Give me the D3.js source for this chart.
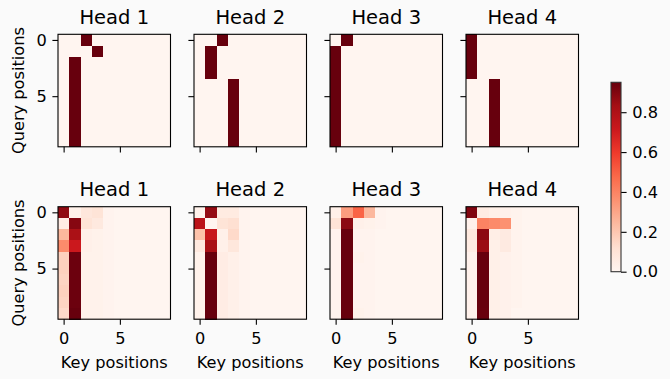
<!DOCTYPE html>
<html>
<head>
<meta charset="utf-8">
<script src="https://cdn.jsdelivr.net/npm/d3@7"></script>
<style>
  html, body { margin: 0; padding: 0; background: #fafafa; }
  svg { display: block; font-family: "DejaVu Sans", sans-serif; }
</style>
</head>
<body>
<svg id="chart" width="670" height="379"></svg>
<script>
// ---------------- DATA ----------------
const headTitles = ["Head 1", "Head 2", "Head 3", "Head 4"];
const positions = [0, 1, 2, 3, 4, 5, 6, 7, 8, 9];
const tickValues = [0, 5];
const colorbarTicks = [0.0, 0.2, 0.4, 0.6, 0.8];

const topHead1 = [
  [0,0,1,0,0,0,0,0,0,0],
  [0,0,0,1,0,0,0,0,0,0],
  [0,1,0,0,0,0,0,0,0,0],
  [0,1,0,0,0,0,0,0,0,0],
  [0,1,0,0,0,0,0,0,0,0],
  [0,1,0,0,0,0,0,0,0,0],
  [0,1,0,0,0,0,0,0,0,0],
  [0,1,0,0,0,0,0,0,0,0],
  [0,1,0,0,0,0,0,0,0,0],
  [0,1,0,0,0,0,0,0,0,0]
];
const topHead2 = [
  [0,0,1,0,0,0,0,0,0,0],
  [0,1,0,0,0,0,0,0,0,0],
  [0,1,0,0,0,0,0,0,0,0],
  [0,1,0,0,0,0,0,0,0,0],
  [0,0,0,1,0,0,0,0,0,0],
  [0,0,0,1,0,0,0,0,0,0],
  [0,0,0,1,0,0,0,0,0,0],
  [0,0,0,1,0,0,0,0,0,0],
  [0,0,0,1,0,0,0,0,0,0],
  [0,0,0,1,0,0,0,0,0,0]
];
const topHead3 = [
  [0,1,0,0,0,0,0,0,0,0],
  [1,0,0,0,0,0,0,0,0,0],
  [1,0,0,0,0,0,0,0,0,0],
  [1,0,0,0,0,0,0,0,0,0],
  [1,0,0,0,0,0,0,0,0,0],
  [1,0,0,0,0,0,0,0,0,0],
  [1,0,0,0,0,0,0,0,0,0],
  [1,0,0,0,0,0,0,0,0,0],
  [1,0,0,0,0,0,0,0,0,0],
  [1,0,0,0,0,0,0,0,0,0]
];
const topHead4 = [
  [1,0,0,0,0,0,0,0,0,0],
  [1,0,0,0,0,0,0,0,0,0],
  [1,0,0,0,0,0,0,0,0,0],
  [1,0,0,0,0,0,0,0,0,0],
  [0,0,1,0,0,0,0,0,0,0],
  [0,0,1,0,0,0,0,0,0,0],
  [0,0,1,0,0,0,0,0,0,0],
  [0,0,1,0,0,0,0,0,0,0],
  [0,0,1,0,0,0,0,0,0,0],
  [0,0,1,0,0,0,0,0,0,0]
];

const bottomHead1 = [
  [0.88,0.02,0.08,0.10,0.01,0,0,0,0,0],
  [0.05,0.90,0.10,0.07,0.01,0,0,0,0,0],
  [0.25,0.82,0.03,0.02,0.01,0,0,0,0,0],
  [0.38,0.72,0.03,0.02,0.01,0,0,0,0,0],
  [0.17,0.95,0.02,0.02,0.01,0,0,0,0,0],
  [0.17,0.95,0.02,0.02,0.01,0,0,0,0,0],
  [0.16,0.95,0.02,0.02,0.01,0,0,0,0,0],
  [0.17,0.95,0.02,0.02,0.01,0,0,0,0,0],
  [0.16,0.95,0.02,0.02,0.01,0,0,0,0,0],
  [0.14,0.96,0.02,0.02,0.01,0,0,0,0,0]
];
const bottomHead2 = [
  [0.02,0.88,0.06,0.06,0.01,0,0,0,0,0],
  [0.78,0.00,0.10,0.12,0.01,0,0,0,0,0],
  [0.22,0.74,0.03,0.14,0.01,0,0,0,0,0],
  [0.07,0.84,0.03,0.08,0.01,0,0,0,0,0],
  [0.02,0.97,0.05,0.03,0.01,0,0,0,0,0],
  [0.02,0.97,0.05,0.03,0.01,0,0,0,0,0],
  [0.02,0.97,0.05,0.03,0.01,0,0,0,0,0],
  [0.02,0.97,0.05,0.03,0.01,0,0,0,0,0],
  [0.02,0.97,0.05,0.03,0.01,0,0,0,0,0],
  [0.02,0.97,0.05,0.03,0.01,0,0,0,0,0]
];
const bottomHead3 = [
  [0.03,0.33,0.50,0.25,0.01,0,0,0,0,0],
  [0.10,0.90,0.03,0.02,0.01,0,0,0,0,0],
  [0.01,0.97,0.01,0.01,0.00,0,0,0,0,0],
  [0.01,0.97,0.01,0.01,0.00,0,0,0,0,0],
  [0.01,0.97,0.02,0.01,0.00,0,0,0,0,0],
  [0.01,0.97,0.01,0.01,0.00,0,0,0,0,0],
  [0.01,0.97,0.01,0.01,0.00,0,0,0,0,0],
  [0.01,0.97,0.01,0.01,0.00,0,0,0,0,0],
  [0.01,0.97,0.01,0.01,0.00,0,0,0,0,0],
  [0.01,0.97,0.02,0.01,0.00,0,0,0,0,0]
];
const bottomHead4 = [
  [0.90,0.05,0.03,0.02,0.01,0,0,0,0,0],
  [0.02,0.40,0.38,0.36,0.01,0,0,0,0,0],
  [0.07,0.88,0.04,0.06,0.01,0,0,0,0,0],
  [0.05,0.85,0.03,0.06,0.01,0,0,0,0,0],
  [0.02,0.95,0.03,0.02,0.01,0,0,0,0,0],
  [0.02,0.95,0.03,0.02,0.01,0,0,0,0,0],
  [0.02,0.95,0.03,0.02,0.01,0,0,0,0,0],
  [0.02,0.95,0.03,0.02,0.01,0,0,0,0,0],
  [0.02,0.95,0.03,0.02,0.01,0,0,0,0,0],
  [0.02,0.947,0.03,0.02,0.00,0,0,0,0,0]
];

const rows = [
  [topHead1, topHead2, topHead3, topHead4],
  [bottomHead1, bottomHead2, bottomHead3, bottomHead4]
];

// ---------------- LAYOUT ----------------
const panelLefts = [58, 194, 330, 466];
const panelTops = [34.3, 206.7];
const panelSize = 112.5;
const textColor = "#000";
const labelSize = 16.2;
const titleSize = 19.5;
const tickLen = 5.6;

// matplotlib Reds (linear segmented through these 9 colours)
const redsColors = ["#fff5f0","#fee0d2","#fcbba1","#fc9272","#fb6a4a","#ef3b2c","#cb181d","#a50f15","#67000d"];
const reds = d3.scaleLinear()
  .domain(d3.range(9).map(i => i / 8))
  .range(redsColors)
  .interpolate(d3.interpolateRgb)
  .clamp(true);

const svg = d3.select("#chart");
svg.append("rect").attr("width", 670).attr("height", 379).attr("fill", "#fafafa");

rows.forEach((row, ri) => {
  row.forEach((mat, ci) => {
    const left = panelLefts[ci], top = panelTops[ri];
    const x = d3.scaleBand().domain(positions).range([0, panelSize]);
    const y = d3.scaleBand().domain(positions).range([0, panelSize]);
    const ext = d3.extent(mat.flat());
    const norm = d3.scaleLinear().domain(ext).range([0, 1]);

    const g = svg.append("g").attr("transform", `translate(${left},${top})`);
    const cells = [];
    mat.forEach((r, qi) => r.forEach((v, ki) => cells.push({qi, ki, v})));
    g.selectAll("rect.cell").data(cells).join("rect")
      .attr("class", "cell")
      .attr("x", d => x(d.ki))
      .attr("y", d => y(d.qi))
      .attr("width", x.bandwidth() + 0.3)
      .attr("height", y.bandwidth() + 0.3)
      .attr("fill", d => reds(norm(d.v)))
      .attr("shape-rendering", "crispEdges");

    // axes (ticks at cell centres)
    const xp = d3.scalePoint().domain(positions).range([x.bandwidth()/2, panelSize - x.bandwidth()/2]);
    const yp = d3.scalePoint().domain(positions).range([y.bandwidth()/2, panelSize - y.bandwidth()/2]);

    const xAxis = d3.axisBottom(xp).tickValues(tickValues).tickSize(tickLen).tickPadding(8)
      .tickFormat(ri === 1 ? d3.format("d") : () => "");
    const yAxis = d3.axisLeft(yp).tickValues(tickValues).tickSize(tickLen).tickPadding(5.6)
      .tickFormat(ci === 0 ? d3.format("d") : () => "");

    const gx = g.append("g").attr("transform", `translate(0,${panelSize})`).call(xAxis);
    const gy = g.append("g").call(yAxis);
    [gx, gy].forEach(a => {
      a.select(".domain").remove();
      a.selectAll("line").attr("stroke", textColor).attr("stroke-width", 1.1);
      a.selectAll("text").attr("fill", textColor).attr("font-size", labelSize)
        .attr("font-family", "DejaVu Sans");
    });

    g.append("rect").attr("width", panelSize).attr("height", panelSize)
      .attr("fill", "none").attr("stroke", textColor).attr("stroke-width", 1.1);

    g.append("text").attr("x", panelSize / 2).attr("y", -10.3)
      .attr("text-anchor", "middle").attr("font-size", titleSize).attr("fill", textColor)
      .text(headTitles[ci]);

    if (ci === 0) {
      g.append("text")
        .attr("transform", `translate(${-34},${panelSize/2}) rotate(-90)`)
        .attr("text-anchor", "middle").attr("font-size", labelSize).attr("fill", textColor)
        .text("Query positions");
    }
    if (ri === 1) {
      g.append("text").attr("x", panelSize / 2).attr("y", panelSize + 48.7)
        .attr("text-anchor", "middle").attr("font-size", labelSize).attr("fill", textColor)
        .text("Key positions");
    }
  });
});

// ---------------- COLORBAR ----------------
const cbLeft = 611, cbTop = 82.3, cbWidth = 10, cbHeight = 189.4;
const cbExt = d3.extent(bottomHead4.flat());
const cbScale = d3.scaleLinear().domain(cbExt).range([cbHeight, 0]);
const defs = svg.append("defs");
const grad = defs.append("linearGradient").attr("id", "cbgrad")
  .attr("x1", 0).attr("y1", 1).attr("x2", 0).attr("y2", 0);
redsColors.forEach((c, i) => grad.append("stop").attr("offset", i / 8).attr("stop-color", c));
const cb = svg.append("g").attr("transform", `translate(${cbLeft},${cbTop})`);
cb.append("rect").attr("width", cbWidth).attr("height", cbHeight).attr("fill", "url(#cbgrad)");
const cbAxis = d3.axisRight(cbScale).tickValues(colorbarTicks).tickFormat(d3.format(".1f"))
  .tickSize(tickLen).tickPadding(5.6);
const gcb = cb.append("g").attr("transform", `translate(${cbWidth},0)`).call(cbAxis);
gcb.select(".domain").remove();
gcb.selectAll("line").attr("stroke", textColor).attr("stroke-width", 1.1);
gcb.selectAll("text").attr("fill", textColor).attr("font-size", labelSize).attr("font-family", "DejaVu Sans");
cb.append("rect").attr("width", cbWidth).attr("height", cbHeight)
  .attr("fill", "none").attr("stroke", "#333").attr("stroke-width", 1.1);
</script>
</body>
</html>
